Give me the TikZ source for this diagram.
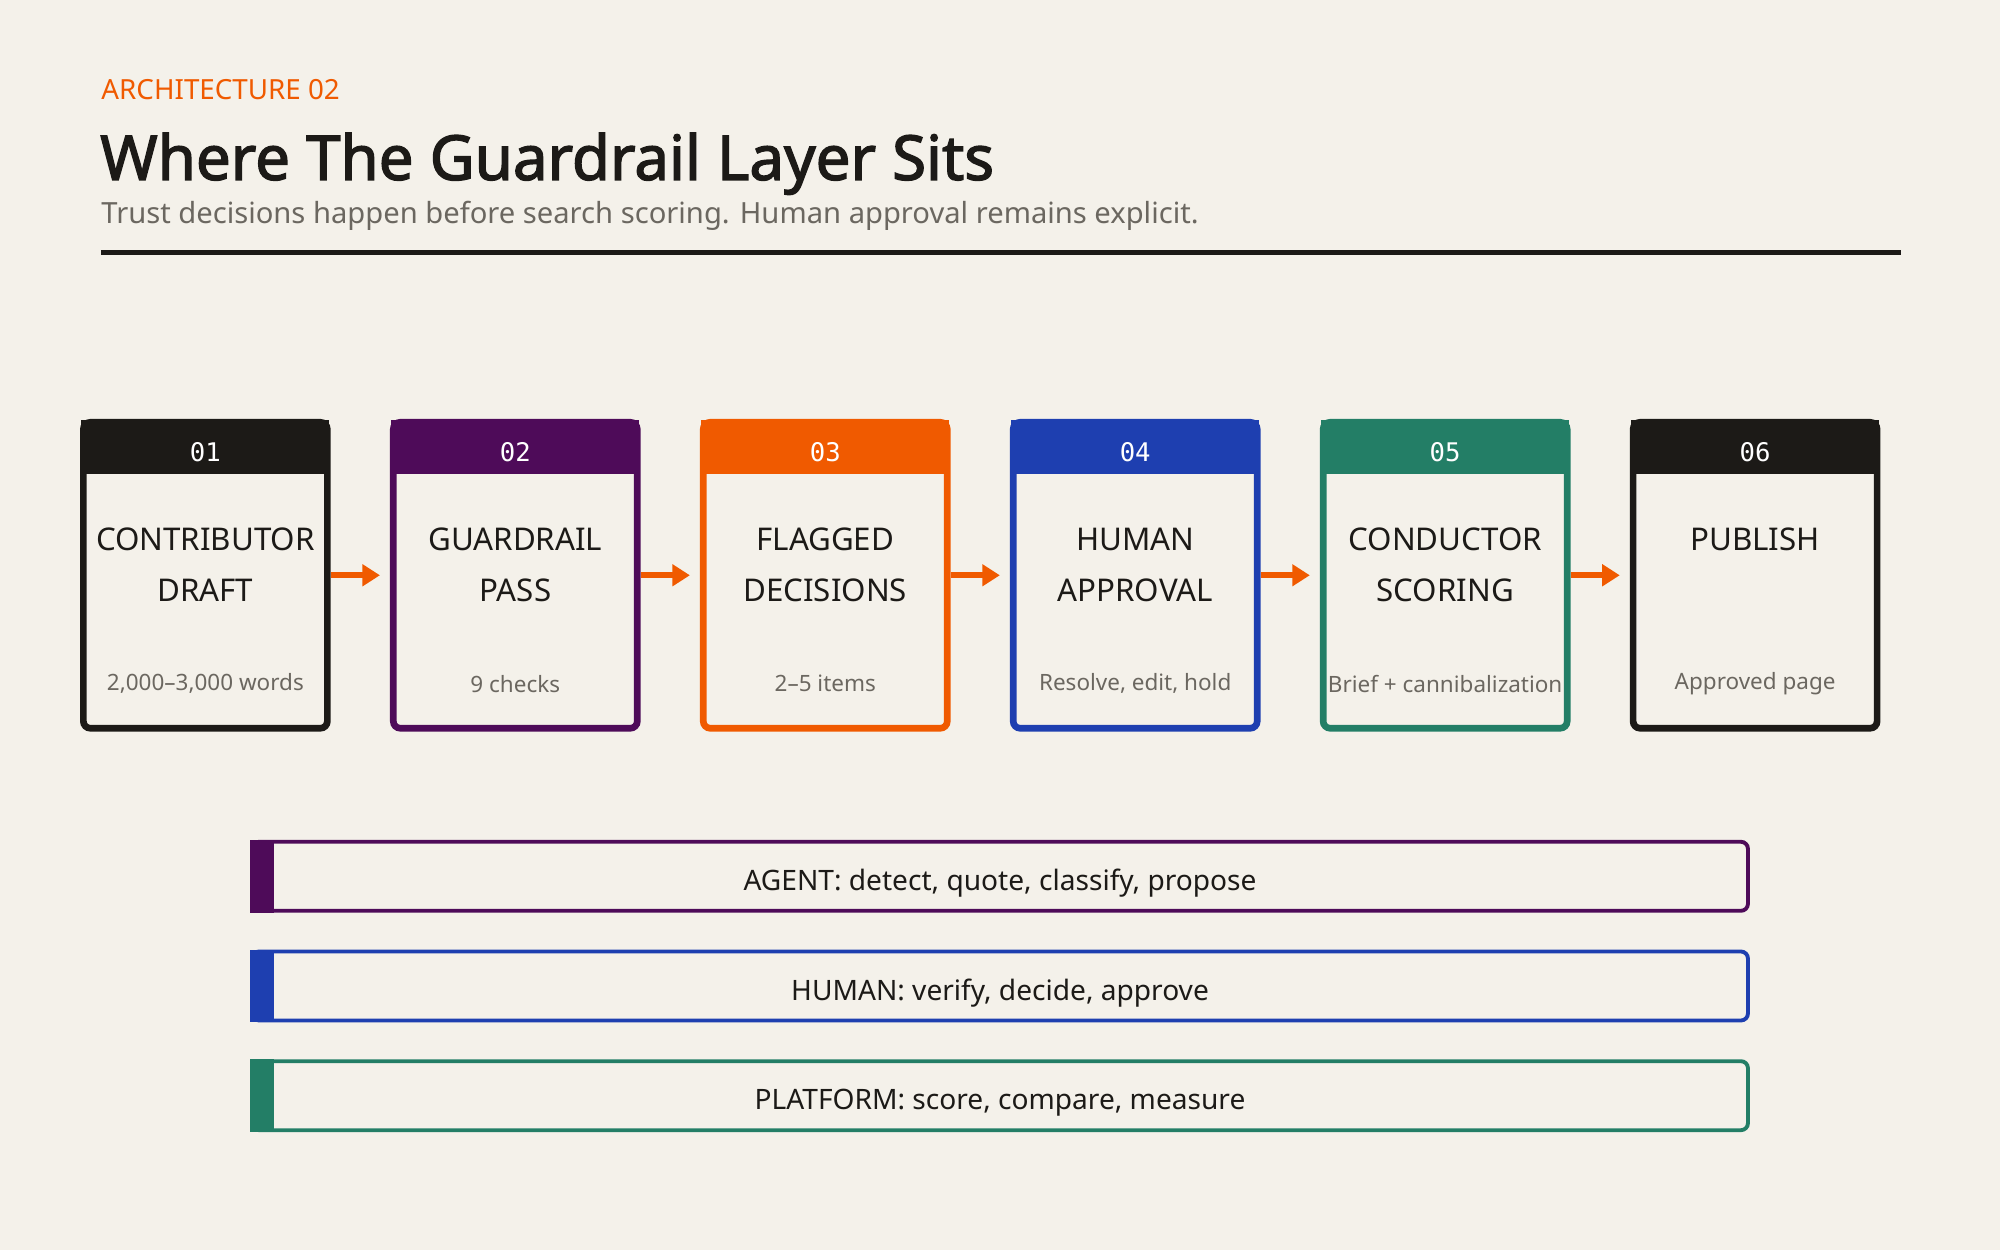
\documentclass[tikz,border=0pt]{standalone}
\usepackage{fontspec}
\setmainfont{Noto Sans}[AutoFakeBold=2.2]
\setmonofont{DejaVu Sans Mono}
\usetikzlibrary{positioning}
\definecolor{bgc}{HTML}{F4F1EA}
\definecolor{inkc}{HTML}{1C1A17}
\definecolor{grayc}{HTML}{6B6760}
\definecolor{plumc}{HTML}{4E0B59}
\definecolor{orangec}{HTML}{F05A00}
\definecolor{bluec}{HTML}{1E3FB0}
\definecolor{greenc}{HTML}{237E66}
\tikzset{
  stage/.style={draw=#1, line width=1.9pt, rounded corners=2pt, minimum width=2.44cm, minimum height=3.06cm, inner sep=0pt},
  head/.style={fill=#1, minimum width=2.48cm, minimum height=0.54cm, inner sep=0pt, text height=1.6ex, text depth=0ex, font=\ttfamily\fontsize{7.3}{9}\selectfont, text=white},
  flow/.style={-{Triangle[length=5pt,width=6pt]}, orangec, line width=1.6pt},
  lane/.style={draw=#1, line width=1.1pt, rounded corners=2pt, minimum width=14.96cm, minimum height=0.69cm, inner sep=0pt, text height=1.7ex, text depth=0.2ex, font=\fontsize{8}{10}\selectfont, text=inkc}
}
\usetikzlibrary{arrows.meta}
\begin{document}
\begin{tikzpicture}[x=0.012755cm, y=-0.012755cm]
\fill[bgc] (0,0) rectangle (1568,980);
\node[anchor=base west, inner sep=0pt, text=orangec, font=\fontsize{7.9}{10}\selectfont] (kicker) at (79,78) {ARCHITECTURE 02};
\node[anchor=base west, inner sep=0pt, text=inkc, font=\bfseries\fontsize{17.6}{22}\selectfont] (title) at (78,141) {Where The Guardrail Layer Sits};
\node[anchor=base west, inner sep=0pt, text=grayc, font=\fontsize{8.3}{11}\selectfont] (sub) at (79,175) {Trust decisions happen before search scoring. Human approval remains explicit.};
\coordinate (rl) at (79,198);
\coordinate (rr) at (1490,198);
\draw[inkc, line width=1.2pt] (rl) -- (rr);

% pipeline stages
\foreach \i/\c/\a/\b/\s [count=\n] in {
  01/inkc/CONTRIBUTOR/DRAFT/{2,000--3,000 words},
  02/plumc/GUARDRAIL/PASS/9 checks,
  03/orangec/FLAGGED/DECISIONS/2--5 items,
  04/bluec/HUMAN/APPROVAL/{Resolve, edit, hold},
  05/greenc/CONDUCTOR/SCORING/Brief + cannibalization,
  06/inkc/PUBLISH//Approved page}{
  \node[stage=\c] (s\n) at ({161+243*(\n-1)},451) {};
  \node[head=\c, anchor=north] (h\n) at (s\n.north) {\i};
  \node[text=inkc, font=\fontsize{8.9}{11}\selectfont] (t\n) at ({161+243*(\n-1)},423) {\a};
  \node[text=inkc, font=\fontsize{8.9}{11}\selectfont] (u\n) at ({161+243*(\n-1)},463) {\b};
  \node[text=grayc, font=\fontsize{6.4}{8}\selectfont] (d\n) at ({161+243*(\n-1)},536) {\s};
}
\foreach \n [evaluate=\n as \m using int(\n+1)] in {1,...,5}
  \draw[flow] (s\n.east) ++(0.06,0) coordinate (fa\n) -- ([xshift=-0.1cm]s\m.west) coordinate (fb\n);

% responsibility lanes
\foreach \t/\c/\y [count=\n] in {
  {AGENT: detect, quote, classify, propose}/plumc/687,
  {HUMAN: verify, decide, approve}/bluec/773,
  {PLATFORM: score, compare, measure}/greenc/859}{
  \node[lane=\c] (l\n) at (784,\y) {\t};
  \fill[\c] (l\n.north west) rectangle ([xshift=0.24cm]l\n.south west);
}
\end{tikzpicture}
\end{document}
